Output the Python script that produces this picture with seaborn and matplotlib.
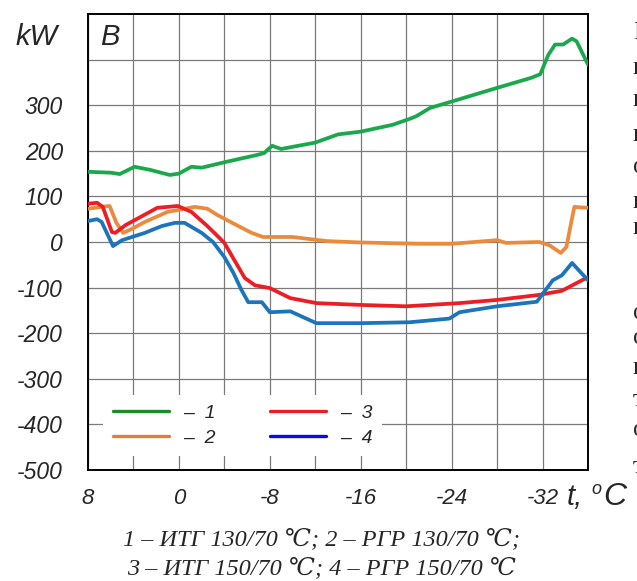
import numpy as np
import pandas as pd
import seaborn as sns
import matplotlib.pyplot as plt
from matplotlib.lines import Line2D

# ---- data (outdoor temperature t, power kW) ----
t_1 = [8, 6, 5.2, 3.9, 2.5, 0.8, 0, -1.1, -2, -4.2, -6.9, -7.5, -8.2, -9, -12,
       -14, -16, -18.8, -20.3, -20.9, -22.1, -24, -28, -31, -31.8, -32.5,
       -33.1, -33.8, -34.6, -35, -36]
kw_1 = [154, 152, 149, 165, 158, 147, 150, 165, 163, 176, 191, 195, 211, 204, 218,
        236, 242, 257, 270, 276, 294, 308, 338, 360, 368, 410,
        433, 433, 446, 440, 389]

t_2 = [8, 6.5, 6.1, 5.5, 4.9, 4.2, 3, 1, -1.4, -2.5, -3.4, -5, -6.4, -7.4, -10,
       -13, -16, -21, -24, -28, -28.8, -31.7, -32.6, -33.6, -34.1, -34.5,
       -34.8, -36]
kw_2 = [73, 78, 79, 42, 20, 28, 44, 66, 77, 73, 59, 38, 20, 11, 11,
        2, -1, -4, -4, 4, -2, 0, -7, -24, -11, 40,
        77, 75]

t_3 = [8, 7.2, 6.7, 5.9, 5.6, 4.7, 1.9, 0.1, -1.1, -2.5, -3.2, -4, -5, -5.8,
       -6.7, -8, -9.8, -12.1, -16, -20, -24.7, -28, -31.7, -33.7, -35, -36]
kw_3 = [84, 86, 77, 22, 20, 37, 75, 79, 66, 35, 18, -2, -45, -79,
        -95, -101, -123, -134, -138, -141, -134, -127, -116, -107, -90, -77]

t_4 = [8, 7.2, 6.8, 5.8, 5, 3, 1.5, 0.35, -0.5, -2, -3, -4, -4.8, -5.5, -6.1,
       -7.3, -8, -9.8, -12.1, -16, -20.3, -23.8, -24.7, -28, -31.5, -32.9,
       -33.7, -34.6, -36]
kw_4 = [46, 50, 44, -9, 4, 20, 35, 42, 42, 20, 0, -33, -68, -105, -132,
        -132, -154, -152, -178, -178, -176, -168, -154, -141, -131, -84,
        -73, -46, -84]

series = ['1', '2', '3', '4']
line_colors = ['#1aa84c', '#ea8a3c', '#ee1d23', '#1c75bc']
legend_colors = ['#1a8c2a', '#e07f3c', '#ee1d23', '#0a0ae6']

y_ticks = [-500, -400, -300, -200, -100, 0, 100, 200, 300, 400]
y_labels = ['-500', '-400', '-300', '-200', '-100', '0', '100', '200', '300', '']
x_ticks = list(range(8, -37, -4))
x_labels = [str(v) if v % 8 == 0 else '' for v in x_ticks]

caption_1 = '1 – ИТГ 130/70 ℃; 2 – РГР 130/70 ℃;'
caption_2 = '3 – ИТГ 150/70 ℃; 4 – РГР 150/70 ℃'

df = pd.concat([
    pd.DataFrame({'t': t_1, 'kw': kw_1, 'curve': '1'}),
    pd.DataFrame({'t': t_2, 'kw': kw_2, 'curve': '2'}),
    pd.DataFrame({'t': t_3, 'kw': kw_3, 'curve': '3'}),
    pd.DataFrame({'t': t_4, 'kw': kw_4, 'curve': '4'}),
])

sns.set_style('white')
plt.rcParams['font.family'] = ['Liberation Sans', 'DejaVu Sans']

fig = plt.figure(figsize=(6.37, 5.81), dpi=100)
ax = fig.add_axes([88 / 637, 111 / 581, 500 / 637, 456 / 581])

sns.lineplot(data=df, x='t', y='kw', hue='curve', hue_order=series,
             palette=line_colors, estimator=None, sort=False,
             linewidth=2.7, legend=False, ax=ax, zorder=3)

ax.set_xlim(8, -36)
ax.set_ylim(-500, 500)
ax.set_xticks(x_ticks)
ax.set_xticklabels(x_labels, fontsize=16, style='italic')
ax.set_yticks(y_ticks)
ax.set_yticklabels(y_labels, fontsize=16.5, style='italic')
ax.tick_params(axis='both', length=0)
ax.tick_params(axis='y', pad=18)
ax.tick_params(axis='x', pad=13)
ax.set_xlabel('')
ax.set_ylabel('')
ax.grid(True, color='#7a7a7a', linewidth=0.9)
ax.set_axisbelow(True)
for sp in ax.spines.values():
    sp.set_color('black')
    sp.set_linewidth(1.4)

handles = [Line2D([], [], color=c, lw=2.4) for c in legend_colors]
ax.legend(handles, ['–  ' + s for s in series], ncol=2,
          loc='lower left', bbox_to_anchor=(0.03, 0.03),
          prop={'size': 14, 'style': 'italic'},
          frameon=True, facecolor='white', edgecolor='none', framealpha=1,
          fancybox=False, handlelength=2.9, columnspacing=2.8,
          handletextpad=0.7, labelspacing=0.35, borderpad=0.5,
          borderaxespad=0)

ax.text(0.025, 0.95, 'B', transform=ax.transAxes, fontsize=21,
        style='italic', ha='left', va='center')
fig.text(37 / 637, 1 - 37 / 581, 'kW', fontsize=21, style='italic',
         ha='center', va='center')

# axis unit at the bottom right
fig.text(567 / 637, 1 - 497 / 581, 't,', fontsize=21, style='italic',
         ha='left', va='center')
fig.text(591 / 637, 1 - 489 / 581, 'o', fontsize=13, style='italic',
         ha='left', va='center')
fig.text(603 / 637, 1 - 497 / 581, 'C', fontsize=23, style='italic',
         ha='left', va='center')

serif = ['Liberation Serif', 'DejaVu Serif']
fig.text(322 / 637, 1 - 539 / 581, caption_1, fontsize=17.5, style='italic',
         family=serif, ha='center', va='center')
fig.text(322 / 637, 1 - 568 / 581, caption_2, fontsize=17.5, style='italic',
         family=serif, ha='center', va='center')

# cut-off body text at the right edge of the page
edge_chars = ['Б', 'п', 'п', 'п', 'о', 'п', 'п', 'о', 'о', 'п', 'т', 'о', 'т']
edge_rows = [33, 68, 100, 135, 167, 202, 228, 313, 338, 368, 400, 430, 467]
for ch, yy in zip(edge_chars, edge_rows):
    fig.text(633 / 637, 1 - yy / 581, ch, fontsize=18, family=serif,
             ha='left', va='center')

fig.savefig('out.png', dpi=100)
